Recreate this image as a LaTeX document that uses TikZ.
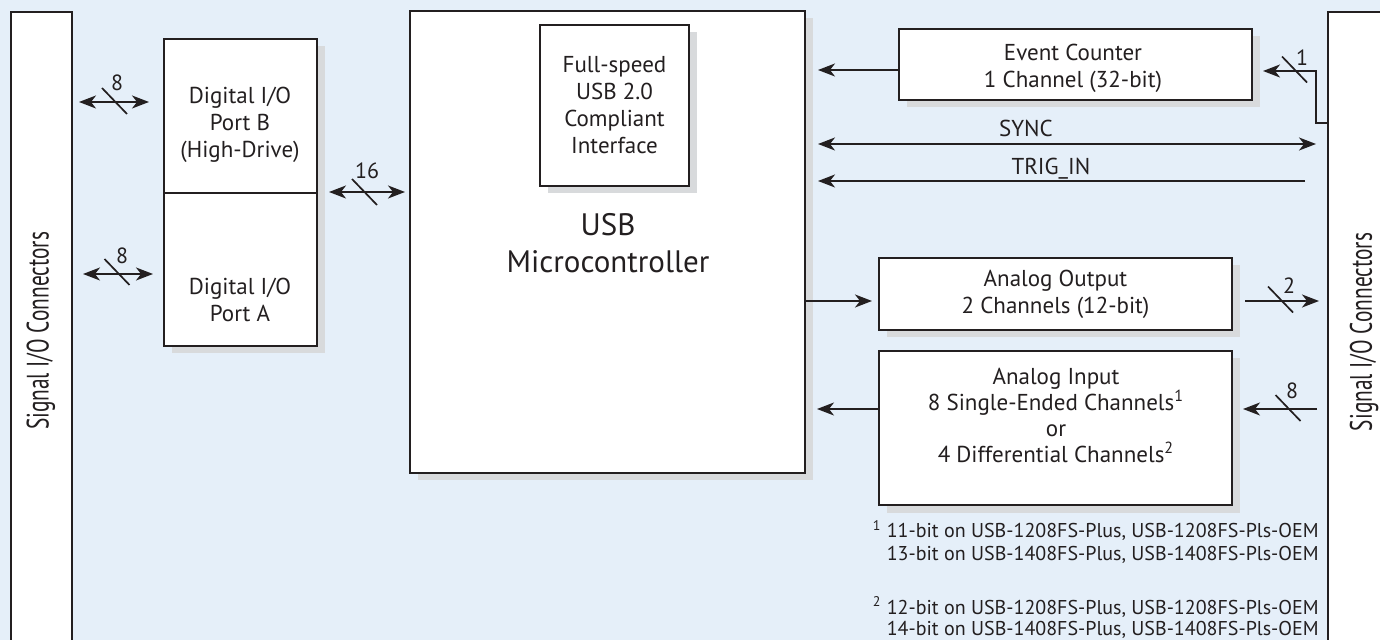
\documentclass[tikz,border=0pt]{standalone}
\usepackage{fontspec}
\usepackage{graphicx}
\setmainfont{PT Sans}
\usetikzlibrary{arrows.meta,shadows,calc}
\definecolor{bg}{RGB}{229,239,249}
\definecolor{shd}{RGB}{216,218,220}
\definecolor{ink}{RGB}{35,31,32}
\newcommand\busmark[5]{%
  \draw[ink, line width=0.85pt, shift={(#1,#2)}] (-12.5,-13) -- (12.5,13);
  \node[numlbl] at (#4,#5) {#3};}
\begin{document}
\begin{tikzpicture}[x=0.5pt,y=-0.5pt,
  >={Stealth[length=8.5pt,width=6.5pt,inset=2.5pt]},
  every node/.style={text=ink},
  box/.style={draw=ink, line width=1pt, fill=white, inner sep=0pt,
    drop shadow={shadow xshift=3.75pt, shadow yshift=-3.75pt, fill=shd, opacity=1}},
  conn/.style={draw=ink, line width=1pt, fill=white, inner sep=0pt},
  lbl/.style={font=\fontsize{11.5}{13.5}\selectfont, align=center, inner sep=0pt},
  numlbl/.style={font=\fontsize{11}{13}\selectfont, inner sep=0pt},
  fnote/.style={font=\fontsize{10}{11}\selectfont, inner sep=0pt, anchor=base east},
  wire/.style={draw=ink, line width=0.85pt, ->},
  dwire/.style={draw=ink, line width=0.85pt, <->},
]
\useasboundingbox (0,0) rectangle (1380,640);
\fill[bg] (0,0) rectangle (1380,640);

% connector strips
\node[conn, minimum width=30.5pt, minimum height=330pt] (lconn) at (41.5,342) {};
\node[conn, minimum width=30.5pt, minimum height=330pt] (rconn) at (1358.5,342) {};
\node[rotate=90, inner sep=0pt] (ltext) at (41,331)
  {\fontsize{15.5}{16}\selectfont\resizebox{99pt}{\height}{Signal I/O Connectors}};
\node[rotate=90, inner sep=0pt] (rtext) at (1364,332)
  {\fontsize{15.5}{16}\selectfont\resizebox{99pt}{\height}{Signal I/O Connectors}};

% digital I/O
\node[box, minimum width=76.5pt, minimum height=77pt] (portb) at (240.5,116) {};
\node[box, minimum width=76.5pt, minimum height=76.5pt] (porta) at (240.5,269.5) {};
\node[lbl] (portbt) at (240,124.5) {Digital I/O\\Port B\\(High-Drive)};
\node[lbl] (portat) at (240,299.5) {Digital I/O\\Port A};

% microcontroller
\node[box, minimum width=197.5pt, minimum height=231pt] (micro) at (607.5,242) {};
\node[font=\fontsize{15.5}{18.5}\selectfont, align=center, inner sep=0pt] (microt) at (608,243) {USB\\Microcontroller};
\node[box, minimum width=74.5pt, minimum height=80.5pt, lbl] (usbif) at (614.5,105.5)
  {Full-speed\\USB 2.0\\Compliant\\Interface};

% right blocks
\node[box, minimum width=176.5pt, minimum height=35.5pt] (event) at (1075.5,64.5) {};
\node[lbl] (eventt) at (1073,68) {Event Counter\\1 Channel (32-bit)};
\node[box, minimum width=176.5pt, minimum height=36pt, lbl] (aout) at (1055.5,294)
  {Analog Output\\2 Channels (12-bit)};
\node[box, minimum width=176.5pt, minimum height=77pt] (ain) at (1055.5,428) {};
\node[lbl, font=\fontsize{11.5}{13}\selectfont] (aint) at (1056,415)
  {Analog Input\\8 Single-Ended Channels\textsuperscript{1}\\or\\4 Differential Channels\textsuperscript{2}};

% connectors left
\draw[dwire, shorten <=3pt, shorten >=7pt] (lconn.east |- 0,102) -- (portb.west |- 0,102);
\draw[dwire, shorten <=5pt, shorten >=5pt] (lconn.east |- 0,274) -- (porta.west |- 0,274);
\draw[dwire, shorten <=5.5pt, shorten >=2pt] (porta.north east) -- (micro.west |- porta.north east);
\busmark{114.5}{101}{8}{117}{83}
\busmark{117}{272}{8}{122}{256}
\busmark{364.5}{192}{16}{367}{171}

% connectors right
\draw[wire, shorten >=6pt] (event.west |- 0,70) -- (micro.east |- 0,70);
\coordinate (bend) at (1316,123);
\draw[wire, shorten >=5pt] (rconn.west |- bend) -- (bend) -- (bend |- 0,71) -- (event.east |- 0,71);
\busmark{1294.5}{69.5}{1}{1302}{58}
\draw[dwire, shorten <=6pt, shorten >=5.5pt] (micro.east |- 0,144) -- node[lbl, above=3pt, pos=0.422] (sync) {SYNC} (rconn.west |- 0,144);
\draw[wire, shorten <=11pt, shorten >=6pt] (rconn.west |- 0,181) -- node[lbl, above=0.5pt, pos=0.53] (trig) {TRIG\_IN} (micro.east |- 0,181);
\draw[wire, shorten >=3pt] (micro.east |- 0,301) -- (aout.west |- 0,301);
\draw[wire, shorten <=6pt, shorten >=4pt] (aout.east |- 0,301) -- (rconn.west |- 0,301);
\busmark{1280.5}{299.5}{2}{1289}{286}
\draw[wire, shorten <=5pt, shorten >=5pt] (rconn.west |- 0,409) -- (ain.east |- 0,409);
\busmark{1288}{408}{8}{1292}{391}
\draw[wire, shorten >=5.5pt] (ain.west |- 0,409) -- (micro.east |- 0,409);

% footnotes
\node[fnote] (fn1a) at (1319,538) {\textsuperscript{1} 11-bit on USB-1208FS-Plus, USB-1208FS-Pls-OEM};
\node[fnote] (fn1b) at (1319,560) {13-bit on USB-1408FS-Plus, USB-1408FS-Pls-OEM};
\node[fnote] (fn2a) at (1319,614) {\textsuperscript{2} 12-bit on USB-1208FS-Plus, USB-1208FS-Pls-OEM};
\node[fnote] (fn2b) at (1319,635) {14-bit on USB-1408FS-Plus, USB-1408FS-Pls-OEM};
\end{tikzpicture}
\end{document}
